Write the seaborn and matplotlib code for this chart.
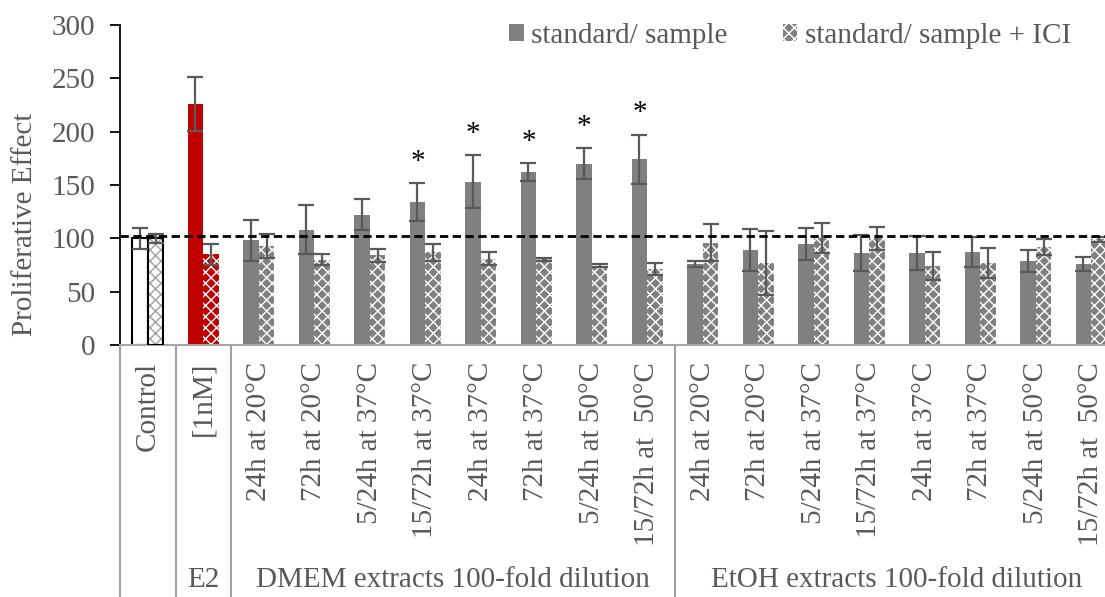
import numpy as np
import pandas as pd
import matplotlib
matplotlib.use("Agg")
import matplotlib.pyplot as plt
import matplotlib.transforms as mtransforms
from matplotlib.patches import Patch
import seaborn as sns

sns.set_style("white")
plt.rcParams["font.family"] = ["Liberation Serif", "DejaVu Serif"]
plt.rcParams["hatch.linewidth"] = 1.0

# ---- data ----
tick_labels = [
    "Control", "[1nM]",
    "24h at 20°C", "72h at 20°C", "5/24h at 37°C", "15/72h at 37°C",
    "24h at 37°C", "72h at 37°C", "5/24h at 50°C", "15/72h at  50°C",
    "24h at 20°C", "72h at 20°C", "5/24h at 37°C", "15/72h at 37°C",
    "24h at 37°C", "72h at 37°C", "5/24h at 50°C", "15/72h at  50°C",
]
sample_mean = [100, 226, 98, 108, 122, 134, 153, 162, 170, 174,
               76, 89, 95, 86, 86, 87, 79, 76]
sample_err = [10, 25, 19, 23, 14.5, 17.5, 25, 8.5, 14.5, 23,
              2.5, 20, 15, 17, 16, 14, 10.5, 6.5]
ici_mean = [100, 85, 93, 80, 84, 87, 81, 80.5, 74.5, 71,
            96, 77, 100, 100, 74, 77, 92, 99]
ici_err = [4, 10, 11.5, 5, 6, 8, 6, 1.5, 1, 5.5,
           17.5, 30, 14, 11, 13, 14, 7.5, 2.5]
significant = [False, False, False, False, False, True, True, True, True, True,
               False, False, False, False, False, False, False, False]
reference_level = 102.5
group_names = ["E2", "DMEM extracts 100-fold dilution", "EtOH extracts 100-fold dilution"]
group_spans = [(0.5, 1.5), (1.5, 9.5), (9.5, 17.5)]
separators = [-0.5, 0.5, 1.5, 9.5]
series_names = ["standard/ sample", "standard/ sample + ICI"]

GRAY = "#808080"
RED = "#c00000"
TEXT = "#595959"
FS = 21

keys = [f"g{i}" for i in range(len(tick_labels))]
df = pd.DataFrame({
    "key": keys * 2,
    "value": sample_mean + ici_mean,
    "series": [series_names[0]] * len(keys) + [series_names[1]] * len(keys),
})

fig = plt.figure(figsize=(11.05, 5.97), dpi=100)
ax = fig.add_axes([120 / 1105, 252 / 597, 999 / 1105, 320 / 597])

sns.barplot(data=df, x="key", y="value", hue="series", order=keys,
            hue_order=series_names, palette=[GRAY, GRAY], width=0.56,
            errorbar=None, dodge=True, ax=ax, saturation=1, legend=False)

solid_bars = list(ax.containers[0])
ici_bars = list(ax.containers[1])

for i, bar in enumerate(solid_bars):
    bar.set_linewidth(0)
    if i == 0:
        bar.set_facecolor("white")
        bar.set_edgecolor("black")
        bar.set_linewidth(1.5)
    elif i == 1:
        bar.set_facecolor(RED)

for i, bar in enumerate(ici_bars):
    bar.set_linewidth(0)
    bar.set_hatch("xxx")
    bar.set_edgecolor("white")
    if i == 0:
        bar.set_facecolor("white")
        bar.set_edgecolor("#a0a0a0")
        ax.add_patch(plt.Rectangle((bar.get_x(), 0), bar.get_width(), bar.get_height(),
                                   fill=False, edgecolor="black", linewidth=1.5, zorder=3))
    elif i == 1:
        bar.set_facecolor(RED)

# error bars
for bars, errs in ((solid_bars, sample_err), (ici_bars, ici_err)):
    xs = [b.get_x() + b.get_width() / 2 for b in bars]
    ys = [b.get_height() for b in bars]
    ax.errorbar(xs, ys, yerr=errs, fmt="none", ecolor=TEXT, elinewidth=1.6,
                capsize=6, capthick=1.6, zorder=4)

# significance stars
for i, bar in enumerate(solid_bars):
    if significant[i]:
        x = bar.get_x() + bar.get_width() / 2
        ax.text(x, sample_mean[i] + sample_err[i] + 8, "*", ha="center",
                va="bottom", fontsize=FS, color="black")

ax.axhline(reference_level, color="black", linestyle=(0, (3, 1.6)), lw=2, zorder=5)

ax.set_ylim(0, 300)
ax.set_xlim(-0.5, 17.5)
ax.set_yticks(range(0, 301, 50))
ax.set_xticks(range(len(tick_labels)))
ax.set_xticklabels(tick_labels, rotation=90, va="top", ha="center")
ax.tick_params(axis="x", length=0, pad=12, labelsize=FS, labelcolor=TEXT)
ax.tick_params(axis="y", length=7, width=1.3, direction="out", pad=11,
               labelsize=FS, labelcolor=TEXT, left=True, color="black")
ax.set_xlabel("")
ax.set_ylabel("Proliferative Effect", fontsize=FS, color=TEXT)
ax.yaxis.set_label_coords(-0.082, 0.378)

for side in ("top", "right"):
    ax.spines[side].set_visible(False)
ax.spines["left"].set_color("black")
ax.spines["left"].set_linewidth(1.3)
ax.spines["bottom"].set_color("#a6a6a6")
ax.spines["bottom"].set_linewidth(1.5)

# category separators below the axis
trans = mtransforms.blended_transform_factory(ax.transData, ax.transAxes)
for xs in separators:
    ax.plot([xs, xs], [0, -0.79], transform=trans, color="#a0a0a0", lw=1.5,
            clip_on=False)

for name, (a, b) in zip(group_names, group_spans):
    ax.text((a + b) / 2, -0.735, name, transform=trans, ha="center", va="center",
            fontsize=FS, color=TEXT)

handles = [Patch(facecolor=GRAY, edgecolor=GRAY, linewidth=0),
           Patch(facecolor=GRAY, edgecolor="white", hatch="xxx", linewidth=0)]
fig.legend(handles, series_names, loc="center left",
           bbox_to_anchor=(509 / 1105, 1 - 36 / 597), ncol=2, frameon=False,
           fontsize=FS, labelcolor=TEXT, handlelength=0.5, handleheight=0.5,
           handletextpad=0.25, columnspacing=1.9, borderpad=0, borderaxespad=0)

fig.savefig("out.png", dpi=100)
